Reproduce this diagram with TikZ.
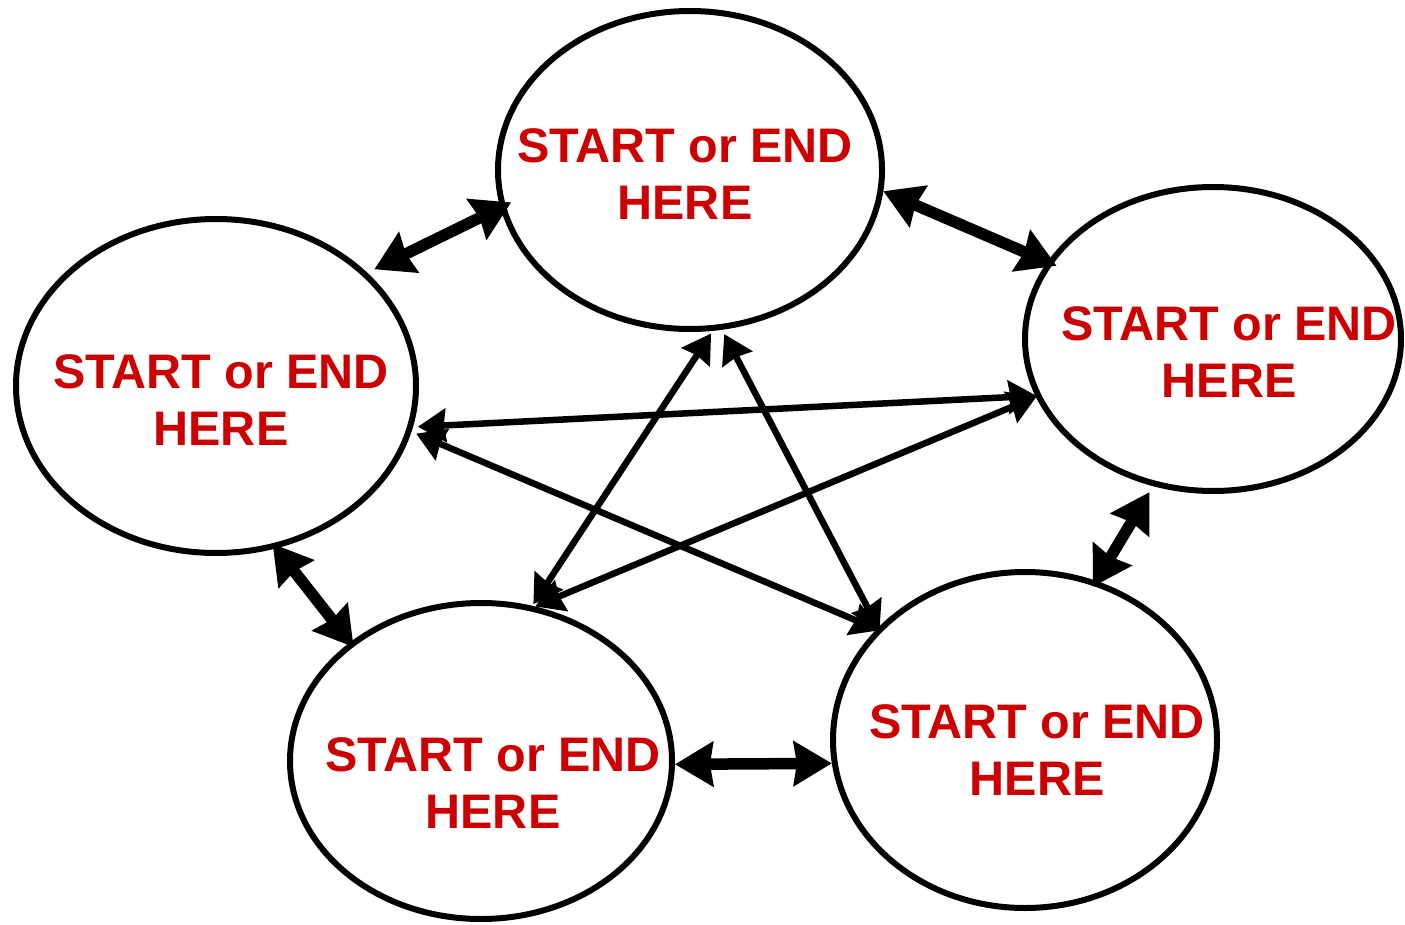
\documentclass[tikz,border=0pt]{standalone}
\usepackage{fontspec}
\setmainfont{Liberation Sans}
\usetikzlibrary{shapes.geometric,arrows.meta}
\definecolor{labelred}{HTML}{CC0000}
\begin{document}
\begin{tikzpicture}[x=1pt,y=-1pt,
  state/.style={ellipse,draw=black,line width=6pt,inner sep=0pt,outer sep=0pt},
  caption/.style={text=labelred,font=\fontsize{48.5}{57}\selectfont\bfseries,align=center,inner sep=0pt},
  thick link/.style={line width=11.5pt,{Stealth[length=38pt,width=44pt,inset=3pt]}-{Stealth[length=38pt,width=44pt,inset=3pt]}},
  thin link/.style={line width=6.5pt,{Stealth[length=28pt,width=33pt,inset=2pt]}-{Stealth[length=28pt,width=33pt,inset=2pt]}}]

\useasboundingbox (0,0) rectangle (1405,925);

% the five states
\node[state,minimum width=384pt,minimum height=318pt] (nT)  at (690,170) {};
\node[state,minimum width=400pt,minimum height=334pt] (nL)  at (216,386) {};
\node[state,minimum width=376pt,minimum height=304pt] (nR)  at (1213,339) {};
\node[state,minimum width=382pt,minimum height=316pt] (nBL) at (481,761) {};
\node[state,minimum width=384pt,minimum height=336pt] (nBR) at (1025,740) {};

% their labels
\node[caption] (cT)  at (685,174)  {START or END\\HERE};
\node[caption] (cL)  at (221,400)  {START or END\\HERE};
\node[caption] (cR)  at (1229,352) {START or END\\HERE};
\node[caption] (cBL) at (493,783)  {START or END\\HERE};
\node[caption] (cBR) at (1037,750) {START or END\\HERE};

% links between neighbouring states
\draw[thick link,shorten <=11pt,shorten >=-9pt] (nL.37.6) -- (nT.191.1);
\draw[thick link,shorten <=3pt,shorten >=-7pt] (nT.354.7) -- (nR.155.8);
\draw[thick link,shorten <=3pt,shorten >=3pt] (nBL.359.6) -- (nBR.187.0);
\draw[thick link,shorten <=-2.5pt,shorten >=-3pt] (nL.290.6) -- (nBL.138.8);
\draw[thick link,shorten <=10pt,shorten >=-4pt] (nR.248.4) -- (nBR.66.4);

% links across the star
\draw[thin link,shorten <=8pt,shorten >=2pt] (nL.348.3) -- (nR.198.2);
\draw[thin link,shorten <=8pt] (nL.347.7) -- (nBR.143.7);
\draw[thin link,shorten <=8pt] (nT.281.0) -- (nBR.143.7);
\draw[thin link,shorten <=7pt,shorten >=5pt] (nT.279.3) -- (nBL.72.8);
\draw[thin link,shorten <=5pt,shorten >=2pt] (nBL.72.8) -- (nR.198.2);
\end{tikzpicture}
\end{document}
